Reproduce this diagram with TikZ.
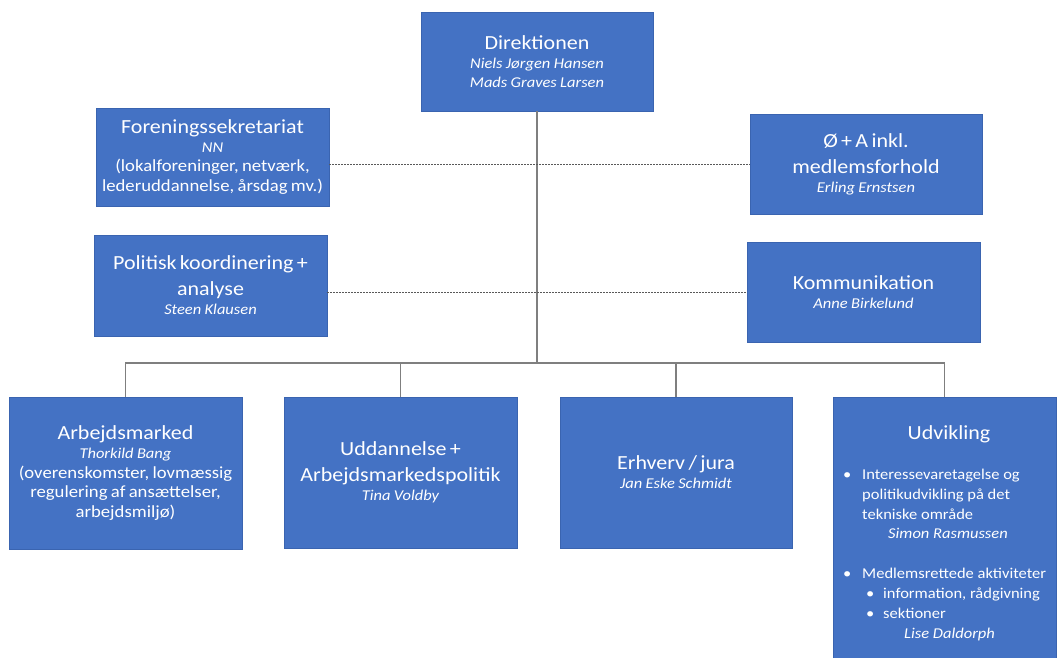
\documentclass[tikz,border=0pt]{standalone}
\usepackage{fontspec}
\setmainfont[FakeStretch=1.1]{Carlito}
\definecolor{boxblue}{HTML}{4472C4}
\definecolor{boxedge}{HTML}{3A64B0}
\definecolor{linegray}{HTML}{7F7F7F}
\definecolor{dotgray}{HTML}{595959}
\newcommand\ttl[1]{{\fontsize{20}{26}\selectfont #1\par}}
\newcommand\nmi[1]{{\fontsize{15}{19}\selectfont\itshape #1\par}}
\newcommand\bdy[1]{{\fontsize{17}{19.5}\selectfont #1\par}}
\tikzset{
  orgbox/.style={draw=boxedge, line width=0.8pt, fill=boxblue, text=white, inner sep=0pt, align=center},
  treeline/.style={draw=linegray, line width=1.3pt},
  dotline/.style={draw=dotgray, line width=1pt, dash pattern=on 2pt off 1pt},
  wtext/.style={text=white, inner sep=0pt},
}
\begin{document}
\begin{tikzpicture}[x=1pt,y=-1pt]
\useasboundingbox (0,0) rectangle (1057,657);
\clip (0,0) rectangle (1057,657);
\fill[white] (0,0) rectangle (1057,657);

% connectors first (behind boxes)
\coordinate (bus) at (537,363);

\node[orgbox, minimum width=232pt, minimum height=99pt, text width=226pt] (dir) at (537,61.5)
  {\ttl{Direktionen}\nmi{Niels Jørgen Hansen\\Mads Graves Larsen}};
\node[orgbox, minimum width=233pt, minimum height=98pt, text width=226pt] (fs) at (212.5,157)
  {\ttl{Foreningssekretariat}\nmi{NN}\bdy{(lokalforeninger, netværk,\\lederuddannelse, årsdag mv.)}};
\node[orgbox, minimum width=232pt, minimum height=100pt, text width=226pt] (oa) at (866,164)
  {\ttl{Ø + A inkl.\\medlemsforhold}\nmi{Erling Ernstsen}};
\node[orgbox, minimum width=233pt, minimum height=101pt, text width=226pt] (pk) at (210.5,285.5)
  {\ttl{Politisk koordinering +\\analyse}\nmi{Steen Klausen}};
\node[orgbox, minimum width=233pt, minimum height=100pt, text width=226pt] (ko) at (863.5,292)
  {\ttl{Kommunikation}\nmi{Anne Birkelund}};
\node[orgbox, minimum width=233pt, minimum height=152pt, text width=226pt] (am) at (125.5,473)
  {\ttl{Arbejdsmarked}\nmi{Thorkild Bang}\bdy{(overenskomster, lovmæssig\\regulering af ansættelser,\\arbejdsmiljø)}};
\node[orgbox, minimum width=233pt, minimum height=151pt, text width=226pt] (ud) at (400.5,472.5)
  {\ttl{Uddannelse +\\Arbejdsmarkedspolitik}\nmi{Tina Voldby}};
\node[orgbox, minimum width=232pt, minimum height=151pt, text width=226pt] (er) at (676,472.5)
  {\ttl{Erhverv / jura}\nmi{Jan Eske Schmidt}};
\node[orgbox, minimum width=223pt, minimum height=300pt] (uv) at (944.5,547) {};

% Udvikling content
\node[wtext, anchor=base] (uvt) at (949,439) {\fontsize{20}{24}\selectfont Udvikling};
\tikzset{ub/.style={wtext, anchor=base west, font=\fontsize{15}{18}\selectfont}}
\node[ub] (b1) at (843,479) {•};
\node[ub] (l1) at (862,479) {Interessevaretagelse og};
\node[ub] (l2) at (862,499) {politikudvikling på det};
\node[ub] (l3) at (862,519) {tekniske område};
\node[ub, font=\fontsize{15}{18}\selectfont\itshape] (l4) at (888,538) {Simon Rasmussen};
\node[ub] (b2) at (843,578) {•};
\node[ub] (l5) at (862,578) {Medlemsrettede aktiviteter};
\node[ub] (b3) at (866,598) {•};
\node[ub] (l6) at (883,598) {information, rådgivning};
\node[ub] (b4) at (866,618) {•};
\node[ub] (l7) at (883,618) {sektioner};
\node[ub, font=\fontsize{15}{18}\selectfont\itshape] (l8) at (904,638) {Lise Daldorph};

% connectors
\begin{scope}[on background layer/.style={}]
\draw[treeline] (dir.south) -- (bus);
\draw[treeline] (am.north) |- (bus);
\draw[treeline] (ud.north) |- (bus);
\draw[treeline] (er.north) |- (bus);
\draw[treeline] (uv.north) |- (bus);
\draw[dotline] (fs.east |- oa.west) -- (oa.west);
\draw[dotline] (pk.east |- ko.west) -- (ko.west);
\end{scope}
\end{tikzpicture}
\end{document}
